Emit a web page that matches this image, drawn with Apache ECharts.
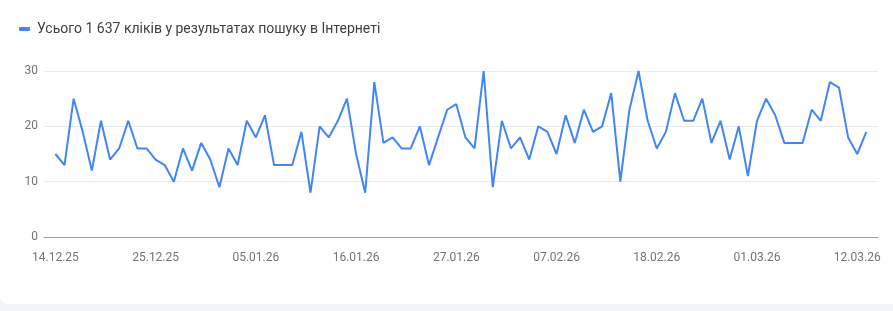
<!DOCTYPE html>
<html>
<head>
<meta charset="utf-8">
<script src="https://cdn.jsdelivr.net/npm/echarts@6/dist/echarts.min.js"></script>
<style>
  html, body { margin: 0; padding: 0; background: #f0f4f9; }
  #card { position: absolute; left: 0; top: 0; width: 893px; height: 304px; background: #ffffff; border-radius: 0 0 0 8px; overflow: hidden; }
  #chart { width: 893px; height: 311px; }
</style>
</head>
<body>
<div id="card"><div id="chart"></div></div>
<script>
const seriesName = 'Усього 1 637 кліків у результатах пошуку в Інтернеті';

const dates = [
  '14.12.25','15.12.25','16.12.25','17.12.25','18.12.25','19.12.25','20.12.25','21.12.25','22.12.25','23.12.25',
  '24.12.25','25.12.25','26.12.25','27.12.25','28.12.25','29.12.25','30.12.25','31.12.25',
  '01.01.26','02.01.26','03.01.26','04.01.26','05.01.26','06.01.26','07.01.26','08.01.26','09.01.26','10.01.26',
  '11.01.26','12.01.26','13.01.26','14.01.26','15.01.26','16.01.26','17.01.26','18.01.26','19.01.26','20.01.26',
  '21.01.26','22.01.26','23.01.26','24.01.26','25.01.26','26.01.26','27.01.26','28.01.26','29.01.26','30.01.26','31.01.26',
  '01.02.26','02.02.26','03.02.26','04.02.26','05.02.26','06.02.26','07.02.26','08.02.26','09.02.26','10.02.26',
  '11.02.26','12.02.26','13.02.26','14.02.26','15.02.26','16.02.26','17.02.26','18.02.26','19.02.26','20.02.26',
  '21.02.26','22.02.26','23.02.26','24.02.26','25.02.26','26.02.26','27.02.26','28.02.26',
  '01.03.26','02.03.26','03.03.26','04.03.26','05.03.26','06.03.26','07.03.26','08.03.26','09.03.26','10.03.26',
  '11.03.26','12.03.26','13.03.26'
];

const clicks = [
  15,13,25,19,12,21,14,16,21,16,
  16,14,13,10,16,12,17,14,9,16,
  13,21,18,22,13,13,13,19,8,20,
  18,21,25,15,8,28,17,18,16,16,
  20,13,18,23,24,18,16,30,9,21,
  16,18,14,20,19,15,22,17,23,19,
  20,26,10,23,30,21,16,19,26,21,
  21,25,17,21,14,20,11,21,25,22,
  17,17,17,23,21,28,27,18,15,19
];

const tickLabels = ['14.12.25','25.12.25','05.01.26','16.01.26','27.01.26','07.02.26','18.02.26','01.03.26','12.03.26'];
const yTicks = [0, 10, 20, 30];

const tickIdx = tickLabels.map(t => dates.indexOf(t));
const points = clicks.map((v, i) => [i, v]);

const chart = echarts.init(document.getElementById('chart'), null, { renderer: 'canvas' });
chart.setOption({
  animation: false,
  textStyle: { fontFamily: 'Roboto' },
  legend: {
    left: 14,
    top: 17,
    icon: 'roundRect',
    itemWidth: 11,
    itemHeight: 4,
    textStyle: { fontFamily: 'Roboto', fontSize: 14, color: '#3c4043', padding: [0, 0, 0, 2] },
    data: [seriesName]
  },
  grid: { left: 44, right: 15, top: 71, bottom: 74, containLabel: false },
  xAxis: {
    type: 'value',
    min: -1.25,
    max: 90.28,
    splitLine: { show: false },
    axisTick: { show: false },
    axisLine: { show: true, lineStyle: { color: '#9e9e9e', width: 1 } },
    axisLabel: {
      customValues: tickIdx,
      formatter: v => dates[Math.round(v)] || '',
      color: '#70757a',
      fontSize: 12,
      fontFamily: 'Roboto',
      margin: 15
    }
  },
  yAxis: {
    type: 'value',
    min: yTicks[0],
    max: yTicks[yTicks.length - 1],
    interval: 10,
    axisLine: { show: false },
    axisTick: { show: false },
    splitLine: { lineStyle: { color: '#e8eaed', width: 1 } },
    axisLabel: { color: '#70757a', fontSize: 12, fontFamily: 'Roboto', margin: 6 }
  },
  series: [{
    name: seriesName,
    type: 'line',
    data: points,
    showSymbol: false,
    symbol: 'none',
    lineStyle: { color: '#4285f4', width: 2 },
    itemStyle: { color: '#4285f4' }
  }]
});
</script>
</body>
</html>
